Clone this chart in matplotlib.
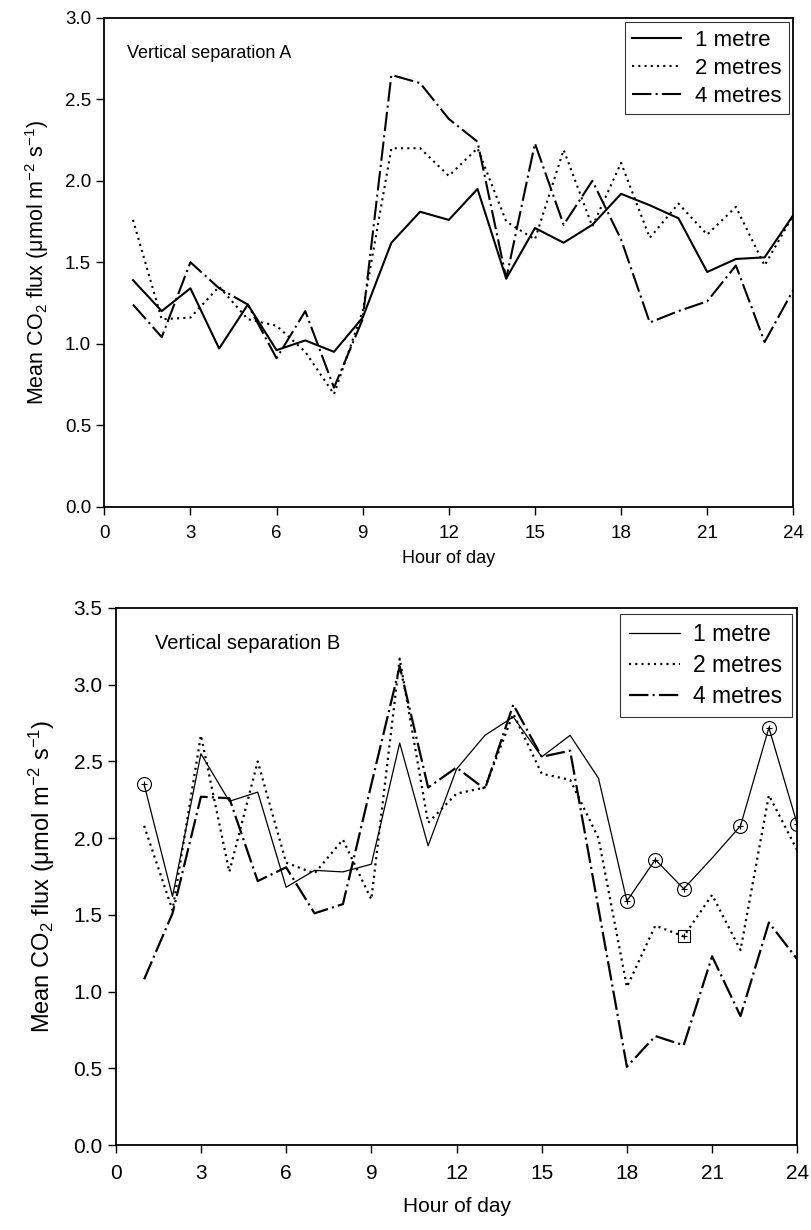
import numpy as np
import matplotlib
matplotlib.use("Agg")
import matplotlib.pyplot as plt

plt.rcParams['font.family'] = ['Liberation Sans', 'DejaVu Sans']
plt.rcParams['lines.scale_dashes'] = False
plt.rcParams['mathtext.fontset'] = 'custom'
plt.rcParams['mathtext.rm'] = 'Liberation Sans'
plt.rcParams['mathtext.it'] = 'Liberation Sans'

hours = np.arange(1, 25)

# panel A
a_1m = [1.39, 1.20, 1.34, 0.97, 1.24, 0.96, 1.02, 0.95, 1.16, 1.62, 1.81, 1.76,
        1.95, 1.40, 1.71, 1.62, 1.73, 1.92, 1.85, 1.77, 1.44, 1.52, 1.53, 1.79]
a_2m = [1.76, 1.15, 1.16, 1.35, 1.15, 1.11, 0.95, 0.69, 1.20, 2.20, 2.20, 2.03,
        2.20, 1.75, 1.64, 2.19, 1.72, 2.11, 1.65, 1.86, 1.67, 1.84, 1.48, 1.79]
a_4m = [1.24, 1.04, 1.50, 1.34, 1.24, 0.91, 1.20, 0.73, 1.15, 2.65, 2.60, 2.38,
        2.24, 1.40, 2.23, 1.73, 2.00, 1.64, 1.13, 1.20, 1.26, 1.48, 1.01, 1.33]

# panel B
b_1m = [2.35, 1.62, 2.55, 2.24, 2.30, 1.68, 1.79, 1.78, 1.83, 2.62, 1.95, 2.45,
        2.67, 2.79, 2.53, 2.67, 2.39, 1.59, 1.86, 1.67, 1.87, 2.08, 2.72, 2.09]
b_2m = [2.08, 1.53, 2.67, 1.78, 2.50, 1.84, 1.77, 1.99, 1.60, 3.17, 2.10, 2.29,
        2.33, 2.81, 2.42, 2.38, 2.00, 1.03, 1.43, 1.36, 1.63, 1.27, 2.28, 1.92]
b_4m = [1.08, 1.51, 2.27, 2.26, 1.72, 1.81, 1.51, 1.57, 2.35, 3.12, 2.33, 2.46,
        2.32, 2.87, 2.53, 2.57, 1.54, 0.51, 0.71, 0.65, 1.23, 0.84, 1.45, 1.21]

# flagged points
b_circle_hours = [1, 18, 19, 20, 22, 23, 24]
b_square_hours = [20]

labels = ['1 metre', '2 metres', '4 metres']
ylabel = r'Mean CO$_2$ flux ($\mu$mol m$^{-2}$ s$^{-1}$)'

dotted = (0, (1.5, 3))
dashdot = (0, (14, 3, 1.5, 3))

fig = plt.figure(figsize=(8.11, 12.30), dpi=100)

# --- top panel ---
ax1 = fig.add_axes([0.1286, 0.5882, 0.8496, 0.3972])
ax1.plot(hours, a_1m, color='black', lw=1.5, ls='-', label=labels[0])
ax1.plot(hours, a_2m, color='black', lw=1.5, ls=dotted, label=labels[1])
ax1.plot(hours, a_4m, color='black', lw=1.5, ls=dashdot, label=labels[2])
ax1.set_xlim(0, 24)
ax1.set_ylim(0, 3.0)
ax1.set_xticks(np.arange(0, 25, 3))
ax1.set_yticks(np.arange(0, 3.01, 0.5))
ax1.set_yticklabels(['%.1f' % v for v in np.arange(0, 3.01, 0.5)])
ax1.tick_params(direction='out', length=6, width=1, labelsize=13.5)
ax1.tick_params(axis='x', pad=7)
ax1.set_xlabel('Hour of day', fontsize=13, labelpad=6)
ax1.set_ylabel(ylabel, fontsize=15.5, labelpad=10)
ax1.text(0.8, 2.78, 'Vertical separation A', fontsize=13, va='center')
leg1 = ax1.legend(loc='upper right', fontsize=16, frameon=True, fancybox=False,
                  edgecolor='black', handlelength=2.2, borderpad=0.35,
                  labelspacing=0.3, borderaxespad=0.2, handletextpad=0.6)
leg1.get_frame().set_linewidth(0.8)
for s in ax1.spines.values():
    s.set_linewidth(1.3)

# --- bottom panel ---
ax2 = fig.add_axes([0.1427, 0.0691, 0.8404, 0.4366])
ax2.plot(hours, b_1m, color='black', lw=0.9, ls='-', label=labels[0])
ax2.plot(hours, b_2m, color='black', lw=1.6, ls=dotted, label=labels[1])
ax2.plot(hours, b_4m, color='black', lw=1.6, ls=dashdot, label=labels[2])

circ_y = [b_1m[h - 1] for h in b_circle_hours]
ax2.plot(b_circle_hours, circ_y, ls='none', marker='o', ms=10, mfc='none',
         mec='black', mew=0.8)
ax2.plot(b_circle_hours, circ_y, ls='none', marker='+', ms=5, color='black', mew=0.8)
sq_y = [b_2m[h - 1] for h in b_square_hours]
ax2.plot(b_square_hours, sq_y, ls='none', marker='s', ms=8, mfc='none',
         mec='black', mew=0.8)
ax2.plot(b_square_hours, sq_y, ls='none', marker='+', ms=5, color='black', mew=0.8)

ax2.set_xlim(0, 24)
ax2.set_ylim(0, 3.5)
ax2.set_xticks(np.arange(0, 25, 3))
ax2.set_yticks(np.arange(0, 3.51, 0.5))
ax2.set_yticklabels(['%.1f' % v for v in np.arange(0, 3.51, 0.5)])
ax2.tick_params(direction='out', length=6, width=1, labelsize=15)
ax2.tick_params(axis='x', pad=8)
ax2.set_xlabel('Hour of day', fontsize=15, labelpad=10)
ax2.set_ylabel(ylabel, fontsize=17, labelpad=12)
ax2.text(1.4, 3.27, 'Vertical separation B', fontsize=14.5, va='center')
leg2 = ax2.legend(loc='upper right', fontsize=16.5, frameon=True, fancybox=False,
                  edgecolor='black', handlelength=2.2, borderpad=0.4,
                  labelspacing=0.35, borderaxespad=0.25, handletextpad=0.6)
leg2.get_frame().set_linewidth(0.8)
for s in ax2.spines.values():
    s.set_linewidth(1.3)

fig.savefig('out.png', dpi=100)
